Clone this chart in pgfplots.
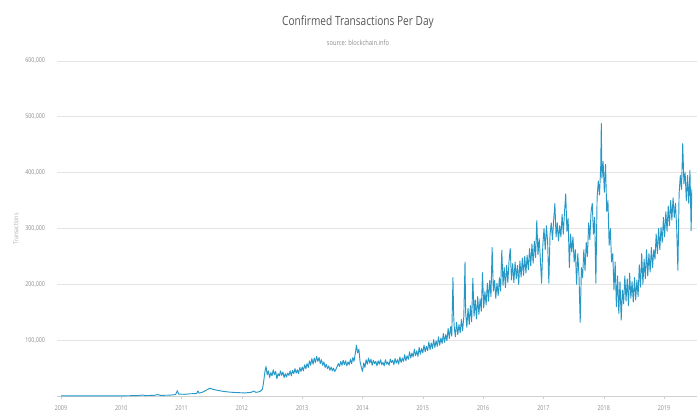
\documentclass[border=0pt]{standalone}
\usepackage{pgfplots}
\pgfplotsset{compat=1.18}
\usepackage{fontspec}
\setmainfont{Open Sans}
\newfontfamily\condfont[FakeStretch=0.8]{Open Sans}
\definecolor{linec}{RGB}{38,152,200}
\definecolor{gridc}{RGB}{228,228,228}
\definecolor{tickc}{RGB}{140,140,140}
\definecolor{titlec}{RGB}{85,85,85}
\begin{document}
\begin{tikzpicture}
\path[use as bounding box] (0,0) rectangle (524.25pt,308.25pt);
\node[font=\condfont\fontsize{9.5}{10}\selectfont, text=titlec] at (268.5pt,291.5pt) {Confirmed Transactions Per Day};
\node[font=\condfont\fontsize{5.4}{6}\selectfont, text=tickc] at (268.5pt,276pt) {source: blockchain.info};
\node[font=\condfont\fontsize{5}{6}\selectfont, text=tickc!70, rotate=90] at (12pt,136.5pt) {Transactions};
\begin{axis}[
  at={(42.75pt,11.25pt)}, anchor=south west,
  scale only axis, width=480pt, height=251.25pt,
  xmin=2008.934, xmax=2019.547, ymin=0, ymax=600000,
  axis x line*=bottom, axis y line*=left,
  x axis line style={draw=gridc!80!gray},
  y axis line style={draw=none},
  ymajorgrids, grid style={draw=gridc, line width=0.6pt},
  xtick={2009,2010,...,2019},
  ytick={100000,200000,...,600000},
  scaled y ticks=false,
  xtick style={draw=gridc!80!gray}, tick align=outside,
  major tick length=2pt,
  ytick style={draw=none},
  /pgf/number format/assume math mode=true,
  tick label style={font=\condfont\fontsize{5}{6}\selectfont, text=tickc},
  xticklabel style={/pgf/number format/1000 sep={}, yshift=-1.5pt},
  yticklabel style={/pgf/number format/fixed, /pgf/number format/1000 sep={,}, xshift=-3.5pt},
]
\addplot[linec, line width=0.7pt, line join=round] table {
2009.00 100
2009.30 150
2009.60 200
2009.90 300
2010.10 400
2010.30 900
2010.35 1800
2010.40 800
2010.55 1200
2010.60 2600
2010.65 1100
2010.80 1500
2010.90 2500
2010.93 9500
2010.95 3500
2011.05 3000
2011.15 4000
2011.25 4500
2011.27 9000
2011.29 5000
2011.35 7000
2011.42 11000
2011.47 14000
2011.52 12000
2011.58 10500
2011.65 9000
2011.75 7500
2011.85 6500
2011.95 6000
2012.05 5500
2012.15 6500
2012.20 9000
2012.23 6500
2012.30 8000
2012.34 12000
2012.36 25000
2012.38 42000
2012.40 53000
2012.42 38000
2012.44 45000
2012.46 33000
2012.48 42000
2012.50 36000
2012.52 47000
2012.54 38000
2012.56 44000
2012.58 31000
2012.60 40000
2012.62 36000
2012.64 45000
2012.66 37000
2012.68 43000
2012.70 33000
2012.72 40000
2012.74 34000
2012.76 41000
2012.78 37000
2012.80 45000
2012.82 36000
2012.84 46000
2012.86 40000
2012.88 49000
2012.90 41000
2012.92 47000
2012.94 40000
2012.96 51000
2012.98 44000
2013.00 52000
2013.02 45000
2013.04 56000
2013.06 49000
2013.08 58000
2013.10 51000
2013.12 63000
2013.14 55000
2013.16 67000
2013.18 57000
2013.20 68000
2013.22 60000
2013.24 71000
2013.26 62000
2013.28 69000
2013.30 58000
2013.32 65000
2013.34 55000
2013.36 61000
2013.38 51000
2013.40 57000
2013.42 49000
2013.44 54000
2013.46 46000
2013.48 52000
2013.50 45000
2013.52 50000
2013.54 44000
2013.56 48000
2013.58 53000
2013.60 58000
2013.62 53000
2013.64 62000
2013.66 55000
2013.68 64000
2013.70 56000
2013.72 63000
2013.74 54000
2013.76 61000
2013.78 56000
2013.80 66000
2013.82 58000
2013.84 69000
2013.86 62000
2013.88 76000
2013.90 91000
2013.92 77000
2013.94 84000
2013.96 61000
2013.98 52000
2014.00 44000
2014.02 59000
2014.04 51000
2014.06 65000
2014.08 57000
2014.10 68000
2014.12 59000
2014.14 66000
2014.16 55000
2014.18 64000
2014.20 58000
2014.22 62000
2014.24 54000
2014.26 63000
2014.28 57000
2014.30 65000
2014.32 56000
2014.34 60000
2014.36 54000
2014.38 65000
2014.40 57000
2014.42 61000
2014.44 55000
2014.46 66000
2014.48 60000
2014.50 64000
2014.52 56000
2014.54 67000
2014.56 59000
2014.58 65000
2014.60 57000
2014.62 70000
2014.64 60000
2014.66 68000
2014.68 62000
2014.70 74000
2014.72 63000
2014.74 72000
2014.76 66000
2014.78 79000
2014.80 68000
2014.82 77000
2014.84 70000
2014.86 84000
2014.88 72000
2014.90 81000
2014.92 71000
2014.94 87000
2014.96 75000
2014.98 85000
2015.00 77000
2015.02 91000
2015.04 79000
2015.06 89000
2015.08 81000
2015.10 97000
2015.12 83000
2015.14 95000
2015.16 85000
2015.18 101000
2015.20 87000
2015.22 99000
2015.24 89000
2015.26 106000
2015.28 91000
2015.30 104000
2015.32 94000
2015.34 112000
2015.36 96000
2015.38 110000
2015.40 99000
2015.42 121000
2015.44 103000
2015.46 124000
2015.48 107000
2015.50 212000
2015.51 150000
2015.52 125000
2015.54 106000
2015.56 132000
2015.58 110000
2015.60 128000
2015.62 113000
2015.64 137000
2015.66 117000
2015.68 142000
2015.70 240000
2015.71 150000
2015.73 123000
2015.75 157000
2015.77 128000
2015.79 162000
2015.81 133000
2015.83 211000
2015.85 143000
2015.87 172000
2015.89 138000
2015.91 178000
2015.93 146000
2015.95 174000
2015.97 152000
2015.99 221000
2016.01 158000
2016.03 187000
2016.05 163000
2016.07 202000
2016.09 170000
2016.11 207000
2016.13 178000
2016.15 266000
2016.17 188000
2016.19 207000
2016.21 175000
2016.23 202000
2016.25 180000
2016.27 212000
2016.29 188000
2016.31 261000
2016.33 198000
2016.35 230000
2016.37 194000
2016.39 234000
2016.41 203000
2016.43 242000
2016.45 264000
2016.47 208000
2016.49 237000
2016.51 203000
2016.53 240000
2016.55 210000
2016.57 234000
2016.59 200000
2016.61 242000
2016.63 213000
2016.65 247000
2016.67 216000
2016.69 250000
2016.71 220000
2016.73 252000
2016.75 226000
2016.77 264000
2016.79 233000
2016.81 272000
2016.83 238000
2016.85 277000
2016.87 248000
2016.89 314000
2016.91 253000
2016.93 282000
2016.95 243000
2016.97 202000
2016.99 270000
2017.01 300000
2017.03 262000
2017.05 305000
2017.07 275000
2017.09 202000
2017.11 290000
2017.13 310000
2017.15 280000
2017.17 315000
2017.19 345000
2017.21 285000
2017.23 310000
2017.25 278000
2017.27 305000
2017.29 285000
2017.31 325000
2017.33 290000
2017.35 330000
2017.37 362000
2017.39 295000
2017.41 318000
2017.43 230000
2017.45 290000
2017.47 258000
2017.49 285000
2017.51 240000
2017.53 262000
2017.55 200000
2017.57 255000
2017.59 215000
2017.61 132000
2017.63 230000
2017.65 212000
2017.67 262000
2017.69 225000
2017.71 275000
2017.73 250000
2017.75 310000
2017.77 280000
2017.79 330000
2017.81 345000
2017.83 290000
2017.85 320000
2017.87 202000
2017.89 355000
2017.91 385000
2017.93 360000
2017.95 410000
2017.96 488000
2017.97 390000
2017.99 420000
2018.01 365000
2018.03 415000
2018.05 330000
2018.07 350000
2018.09 270000
2018.11 300000
2018.13 240000
2018.15 255000
2018.17 190000
2018.19 240000
2018.21 160000
2018.23 215000
2018.25 148000
2018.27 205000
2018.29 136000
2018.31 190000
2018.33 165000
2018.35 215000
2018.37 170000
2018.39 210000
2018.41 162000
2018.43 220000
2018.45 175000
2018.47 205000
2018.49 168000
2018.51 212000
2018.53 172000
2018.55 208000
2018.57 178000
2018.59 235000
2018.61 195000
2018.63 255000
2018.65 200000
2018.67 245000
2018.69 210000
2018.71 262000
2018.73 215000
2018.75 255000
2018.77 222000
2018.79 266000
2018.81 230000
2018.83 262000
2018.85 245000
2018.87 290000
2018.89 255000
2018.91 300000
2018.93 262000
2018.95 302000
2018.97 275000
2018.99 320000
2019.01 285000
2019.03 330000
2019.05 295000
2019.07 340000
2019.09 305000
2019.11 350000
2019.13 315000
2019.15 355000
2019.17 320000
2019.19 345000
2019.21 300000
2019.23 225000
2019.25 362000
2019.27 395000
2019.29 370000
2019.31 452000
2019.33 380000
2019.35 400000
2019.37 350000
2019.39 395000
2019.41 345000
2019.43 404000
2019.45 296000
2019.46 370000
};
\end{axis}
\end{tikzpicture}
\end{document}
